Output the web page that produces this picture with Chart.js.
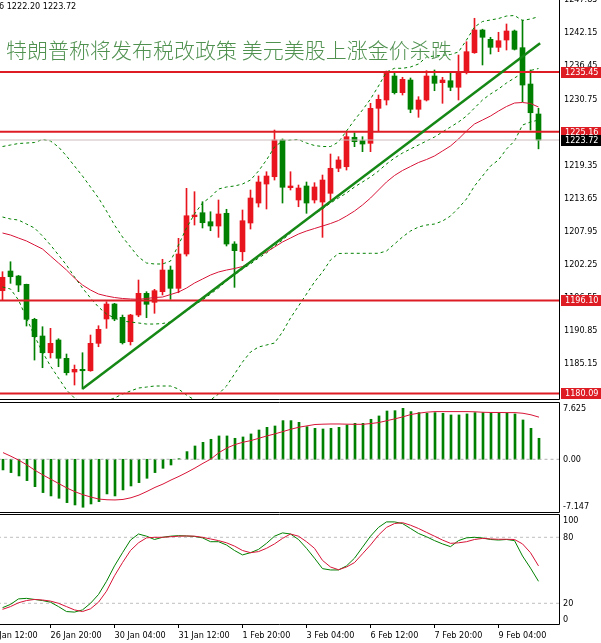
<!DOCTYPE html>
<html>
<head>
<meta charset="utf-8">
<script src="https://cdn.jsdelivr.net/npm/chart.js@4.4.1/dist/chart.umd.min.js"></script>
<style>
  html, body { margin: 0; padding: 0; background: #fff; overflow: hidden; }
  #wrap { position: relative; width: 601px; height: 643px; }
  canvas { position: absolute; left: 0; }
  #priceCanvas { top: 0; }
  #macdCanvas { top: 402px; }
  #stochCanvas { top: 514px; }
  .ohlc { position: absolute; left: -1px; top: 1px; font: 9px 'DejaVu Sans Condensed', 'DejaVu Sans', sans-serif; color: #000; white-space: nowrap; }
  .headline { position: absolute; left: 6px; top: 39px; font-family: 'Noto Sans CJK SC', sans-serif; font-size: 21px; font-weight: 300; line-height: 21px; color: rgb(80, 145, 80); white-space: nowrap; }
</style>
</head>
<body>
<div id="wrap">
  <canvas id="priceCanvas" width="601" height="400"></canvas>
  <canvas id="macdCanvas" width="601" height="111"></canvas>
  <canvas id="stochCanvas" width="601" height="129"></canvas>
  <div class="ohlc">6 1222.20 1223.72</div>
  <div class="headline">特朗普称将发布税改政策 美元美股上涨金价杀跌</div>
</div>
<script>
const FONT = "'DejaVu Sans Condensed', 'DejaVu Sans', sans-serif";
const FONT_SIZE = 9;

// H4 bars, 25 Jan 20:00 -> 10 Feb 00:00
const opens = [1197.77,1201.16,1200.30,1198.87,1192.84,1189.97,1187.09,1189.28,1186.13,1183.77,
  1184.23,1183.99,1188.71,1192.90,1195.48,1193.19,1188.99,1193.58,1197.32,1195.77,
  1197.60,1201.33,1198.18,1204.09,1210.51,1211.20,1209.65,1208.91,1211.10,1205.81,
  1204.48,1209.43,1212.87,1216.14,1217.40,1223.72,1215.51,1213.39,1215.80,1213.39,
  1213.04,1214.54,1218.85,1219.12,1224.19,1223.60,1223.15,1229.18,1230.61,1234.74,
  1231.87,1234.05,1229.01,1230.61,1234.74,1233.59,1233.93,1232.80,1235.31,1238.75,
  1242.66,1241.06,1239.68,1240.94,1242.49,1239.62,1233.36,1228.20];
const highs = [1201.04,1202.76,1200.40,1198.90,1193.02,1191.57,1191.29,1189.50,1186.87,1184.97,
  1187.09,1190.14,1191.74,1195.87,1195.60,1193.58,1193.70,1199.61,1197.60,1198.01,
  1203.18,1202.02,1206.79,1215.40,1214.82,1213.10,1211.37,1213.39,1211.79,1206.21,
  1211.67,1215.11,1217.52,1218.26,1225.44,1223.90,1218.26,1215.97,1216.49,1216.37,
  1217.69,1221.31,1220.85,1225.15,1224.98,1224.29,1230.04,1231.47,1235.60,1235.31,
  1234.52,1234.40,1231.18,1235.65,1235.78,1234.52,1235.31,1238.36,1240.65,1244.68,
  1242.80,1241.41,1242.27,1243.70,1242.66,1244.39,1235.78,1229.18];
const lows = [1196.17,1199.04,1197.60,1191.69,1185.83,1184.51,1186.18,1184.68,1183.25,1181.53,
  1180.84,1183.90,1188.12,1191.29,1192.60,1188.59,1188.42,1193.29,1193.12,1193.88,
  1197.03,1196.29,1197.42,1203.74,1209.08,1208.57,1208.10,1206.96,1205.47,1198.35,
  1202.93,1208.39,1212.18,1211.84,1216.83,1212.87,1215.11,1212.23,1211.10,1212.87,
  1206.96,1213.39,1218.26,1218.55,1222.57,1221.71,1221.71,1225.15,1229.75,1231.64,
  1231.47,1228.42,1227.63,1230.44,1232.21,1230.04,1232.21,1230.61,1235.10,1238.65,
  1236.64,1238.53,1238.93,1239.22,1239.22,1230.32,1225.44,1222.20];
const closes = [1200.08,1200.18,1198.75,1192.84,1189.85,1187.09,1188.71,1186.13,1183.65,1184.23,
  1183.99,1188.71,1191.12,1195.48,1192.90,1188.81,1193.58,1197.32,1195.43,1197.77,
  1201.33,1198.18,1204.09,1210.68,1210.80,1209.48,1208.91,1210.98,1205.81,1204.66,
  1209.82,1213.73,1216.49,1217.52,1223.72,1215.58,1215.80,1215.45,1212.87,1215.63,
  1216.83,1218.85,1220.28,1224.29,1223.43,1223.03,1229.18,1230.73,1235.48,1231.87,
  1234.17,1229.01,1230.61,1234.74,1233.48,1234.05,1232.80,1235.31,1238.93,1242.66,
  1241.41,1239.68,1240.82,1242.49,1239.34,1233.19,1228.42,1223.72];

// bollinger bands (dashed green) and the red moving average
const bbUpper = [1222.60,1222.86,1223.12,1223.20,1223.29,1223.81,1223.55,1222.52,1220.97,1219.24,
  1217.52,1215.63,1213.73,1211.49,1209.08,1207.02,1205.29,1203.57,1202.54,1202.37,
  1202.37,1202.88,1205.64,1208.57,1210.98,1212.87,1213.90,1215.28,1215.63,1215.80,
  1216.14,1216.83,1218.38,1220.28,1222.52,1223.55,1223.72,1223.81,1223.20,1222.77,
  1222.60,1222.60,1223.38,1225.27,1227.16,1228.89,1230.78,1233.02,1235.43,1236.07,
  1236.07,1236.29,1236.81,1238.01,1238.19,1238.31,1238.44,1238.88,1240.94,1243.18,
  1244.13,1244.39,1244.64,1245.07,1245.16,1244.30,1244.56,1244.95];
const bbMiddle = [1210.46,1210.12,1209.94,1209.25,1208.57,1207.19,1205.64,1203.92,1202.19,1200.13,
  1198.23,1196.51,1194.96,1193.76,1193.07,1192.55,1192.38,1192.21,1192.03,1192.03,
  1192.12,1192.38,1193.24,1194.27,1195.31,1196.17,1197.20,1198.23,1199.44,1200.47,
  1201.51,1202.37,1203.40,1204.26,1205.47,1206.50,1207.71,1208.91,1209.94,1210.98,
  1211.84,1212.87,1213.73,1214.59,1215.63,1216.49,1217.35,1218.38,1219.59,1220.62,
  1221.48,1222.17,1222.86,1223.55,1224.24,1225.10,1225.96,1226.82,1227.85,1229.23,
  1230.61,1231.64,1232.50,1233.54,1234.40,1235.26,1235.69,1236.03];
const bbLower = [1198.41,1198.06,1196.17,1193.07,1189.97,1187.21,1184.80,1182.73,1180.67,1179.29,
  1178.60,1178.26,1178.26,1178.77,1179.29,1179.98,1180.50,1181.01,1181.18,1181.36,
  1181.36,1181.36,1180.84,1179.81,1178.95,1178.60,1178.95,1179.98,1181.36,1183.42,
  1185.49,1187.21,1188.07,1188.42,1188.76,1190.66,1193.07,1195.13,1197.20,1199.27,
  1200.99,1203.06,1204.18,1204.21,1204.21,1204.21,1204.21,1204.21,1204.61,1205.81,
  1207.02,1208.05,1208.74,1209.08,1209.25,1209.77,1210.63,1212.01,1213.56,1215.80,
  1217.52,1219.24,1220.28,1222.17,1223.55,1226.30,1226.82,1227.16];
const maRed = [1207.71,1207.36,1206.84,1206.33,1205.64,1204.95,1203.74,1202.54,1201.33,1199.96,
  1198.75,1197.89,1197.20,1196.86,1196.60,1196.43,1196.34,1196.29,1196.43,1196.60,
  1196.68,1197.11,1197.54,1198.23,1199.09,1199.78,1200.47,1200.99,1201.33,1201.59,
  1201.94,1202.71,1203.74,1204.43,1205.29,1206.16,1206.84,1207.53,1208.05,1208.48,
  1208.91,1209.34,1209.86,1210.63,1211.49,1212.53,1213.73,1215.11,1216.49,1217.61,
  1218.47,1219.16,1219.85,1220.36,1220.97,1221.83,1222.69,1223.89,1225.27,1226.48,
  1227.16,1227.85,1228.71,1229.49,1230.09,1230.18,1230.01,1229.40];

// MACD
const macdMain = [-1.59,-1.99,-2.49,-3.19,-4.09,-4.98,-5.48,-5.83,-6.48,-6.83,
  -7.17,-6.68,-6.33,-5.18,-5.48,-4.58,-3.99,-3.49,-2.84,-1.99,
  -1.35,-0.85,0.1,1.15,1.99,2.54,2.99,3.49,3.49,3.14,
  3.34,3.79,4.38,4.78,4.98,5.78,5.78,5.53,4.88,4.63,
  4.53,4.63,4.78,5.13,5.38,5.38,5.98,6.48,7.22,7.27,
  7.62,7.13,6.98,6.88,6.98,6.88,6.63,6.63,6.78,6.98,
  6.98,6.98,6.88,6.88,6.78,5.88,4.63,3.14];
const macdSignal = [1.0,0.45,-0.15,-0.85,-1.65,-2.35,-3.0,-3.65,-4.3,-4.85,
  -5.3,-5.65,-5.95,-6.05,-6.08,-6.0,-5.75,-5.35,-4.8,-4.2,
  -3.7,-3.1,-2.55,-1.95,-1.3,-0.6,0.05,1.0,1.7,2.2,
  2.55,2.8,3.15,3.5,3.8,4.15,4.5,4.8,5.0,5.2,
  5.25,5.28,5.28,5.25,5.23,5.23,5.35,5.5,5.78,6.05,
  6.35,6.7,6.9,7.05,7.13,7.13,7.13,7.13,7.13,7.1,
  7.03,7.0,7.0,6.98,6.98,6.88,6.65,6.3];

// Stochastic
const stochK = [16,19,24,24.5,23.5,22.5,21,17,12.5,12,
  14,20,28,40,54,66,77.5,83,81,78,
  80,81,81.5,81.2,80.8,79.5,76,76,73,68,
  64,66,69,74.5,81,84,83,78,70,61,
  51.5,50.3,50.3,54,61,71,81,89,94,94,
  92.5,88,83.5,80.5,77,74,71.5,77,79.5,80,
  79.4,78,77.5,78,77,63,52,40];
const stochD = [14.5,17,20.5,22.5,23.5,23,22,20,17,14,
  12.5,15,21,31,45,57,68,75,79.5,80,
  80,80.5,81,81.2,81,80,78.5,77,75,72,
  68,66,67,70,74,79,83,81,76,70,
  59,53,50.5,53,57,65,73,82,89,92.5,
  93.3,91,88,84.5,81,77.5,74.5,75,76,78,
  79,78.5,78.2,78.2,78,74,66,54];

// drawn objects
const levelLines = [1235.45, 1225.16, 1196.10, 1180.09];
const lastPrice = 1223.72;
const trendBars = [10, 67.2];
const trendPrices = [1180.9, 1240.4];

// axes
const priceTicks = [1247.85, 1242.15, 1236.45, 1230.75, 1225.05, 1219.35, 1213.65,
  1207.95, 1202.25, 1196.55, 1190.85, 1185.15, 1179.45];
const macdTicks = [7.625, 0, -7.147];
const macdTickLabels = ['7.625', '0.00', '-7.147'];
const stochLevels = [80, 20];
const stochTicks = [100, 80, 20, 0];
// the terminal prints the 100 / 0 labels just inside the window edge
const stochTickLabels = [['', '100'], '80', '20', ['0', '']];
const timeTickBars = [-2, 6, 14, 22, 30, 38, 46, 54, 62];
const timeTickLabels = ['25 Jan 12:00', '26 Jan 20:00', '30 Jan 04:00', '31 Jan 12:00',
  '1 Feb 20:00', '3 Feb 04:00', '6 Feb 12:00', '7 Feb 20:00', '9 Feb 04:00'];

const X_MIN = -0.3125, X_MAX = 69.5625;

const UP = 'rgb(232,20,30)';
const DOWN = 'rgb(0,128,0)';
const LEVEL_RED = 'rgb(222,28,36)';
const MA_RED = 'rgb(215,20,55)';

const idx = opens.map((o, i) => i);
const candleColors = idx.map(i => closes[i] >= opens[i] ? UP : DOWN);
const series = arr => arr.map((v, i) => ({ x: i, y: v }));
const flat = v => [{ x: X_MIN - 1, y: v }, { x: X_MAX + 1, y: v }];

const framePlugin = {
  id: 'frame',
  afterDraw(chart, args, opts) {
    const { ctx, chartArea: a } = chart;
    const r = Math.round(a.right) + 0.5;
    const top = opts.top ? Math.round(a.top) + 0.5 : 0;
    const bottom = Math.round(a.bottom) + (opts.bottomOut ? 0.5 : -0.5);
    ctx.save();
    ctx.strokeStyle = '#000';
    ctx.lineWidth = 1;
    ctx.beginPath();
    if (opts.top) { ctx.moveTo(0, top); ctx.lineTo(r, top); }
    ctx.moveTo(0, bottom); ctx.lineTo(r, bottom);
    ctx.moveTo(r, top); ctx.lineTo(r, bottom);
    ctx.stroke();
    ctx.restore();
  }
};

const priceTagPlugin = {
  id: 'priceTags',
  afterDraw(chart) {
    const { ctx, chartArea: a } = chart;
    const y = chart.scales.y;
    const tags = levelLines.map(v => [v, LEVEL_RED]).concat([[lastPrice, '#000']]);
    ctx.save();
    ctx.font = FONT_SIZE + 'px ' + FONT;
    ctx.textBaseline = 'middle';
    ctx.textAlign = 'left';
    tags.forEach(([v, bg]) => {
      const py = Math.round(y.getPixelForValue(v));
      ctx.fillStyle = bg;
      ctx.fillRect(a.right + 2, py - 5, 40, 11);
      ctx.fillStyle = '#fff';
      ctx.fillText(v.toFixed(2), a.right + 6, py + 0.5);
    });
    ctx.restore();
  }
};

function hiddenX(shift) {
  return { type: 'linear', min: X_MIN - shift, max: X_MAX - shift, display: false,
    offset: false, grid: { offset: false } };
}

function rightAxis(min, max, ticks, fmt, pad) {
  return {
    position: 'right', min: min, max: max,
    grid: { display: false, drawTicks: false },
    border: { display: false },
    afterBuildTicks: ax => { ax.ticks = ticks.map(v => ({ value: v })); },
    afterFit: ax => { ax.width = 42; ax.paddingTop = 0; ax.paddingBottom = 0; },
    ticks: { color: '#000', font: { family: FONT, size: FONT_SIZE }, padding: pad, autoSkip: false, callback: fmt }
  };
}

const baseOptions = {
  responsive: false,
  animation: false,
  events: [],
  layout: { padding: 0 },
  plugins: { legend: { display: false }, tooltip: { enabled: false } },
  elements: { point: { radius: 0 }, line: { tension: 0 } }
};

function lineSet(data, color, width, dash, order) {
  return { type: 'line', data: data, borderColor: color, borderWidth: width,
    borderDash: dash || [], pointRadius: 0, fill: false, order: order };
}

// price window
new Chart(document.getElementById('priceCanvas'), {
  data: {
    datasets: [
      lineSet(trendBars.map((b, i) => ({ x: b, y: trendPrices[i] })), 'rgb(20,135,20)', 2.5, null, 0),
      ...levelLines.map(v => lineSet(flat(v), LEVEL_RED, 2, null, 1)),
      lineSet(flat(lastPrice), 'rgb(205,190,190)', 1, null, 2),
      lineSet(series(maRed), MA_RED, 1, null, 3),
      lineSet(series(bbUpper), 'rgb(0,128,0)', 1, [3, 3], 3),
      lineSet(series(bbMiddle), 'rgb(0,128,0)', 1, [3, 3], 3),
      lineSet(series(bbLower), 'rgb(0,128,0)', 1, [3, 3], 3),
      { type: 'bar', data: idx.map(i => ({ x: i, y: [opens[i], closes[i]] })),
        backgroundColor: candleColors, barThickness: 5, minBarLength: 1, grouped: false, order: 4 },
      { type: 'bar', data: idx.map(i => ({ x: i, y: [lows[i], highs[i]] })),
        backgroundColor: candleColors, barThickness: 1, grouped: false, order: 5 }
    ]
  },
  options: {
    ...baseOptions,
    scales: {
      x: hiddenX(0),
      y: rightAxis(1178.95, 1247.83, priceTicks, v => v.toFixed(2), 5)
    },
    plugins: { ...baseOptions.plugins, frame: { top: false, bottomOut: false } }
  },
  plugins: [framePlugin, priceTagPlugin]
});

// MACD window (half-pixel shift keeps the 2px histogram bars crisp)
new Chart(document.getElementById('macdCanvas'), {
  data: {
    datasets: [
      lineSet(series(macdSignal), MA_RED, 1, null, 0),
      lineSet(flat(0), 'rgb(175,175,175)', 1, [3, 3], 1),
      { type: 'bar', data: series(macdMain), backgroundColor: 'rgb(0,128,0)',
        barThickness: 2, grouped: false, order: 2 }
    ]
  },
  options: {
    ...baseOptions,
    scales: {
      x: hiddenX(0.0625),
      y: rightAxis(-8.03, 8.566, macdTicks, (v, i) => macdTickLabels[i], 4)
    },
    plugins: { ...baseOptions.plugins, frame: { top: true, bottomOut: false } }
  },
  plugins: [framePlugin]
});

// Stochastic window
new Chart(document.getElementById('stochCanvas'), {
  data: {
    datasets: [
      lineSet(series(stochD), MA_RED, 1, null, 0),
      lineSet(series(stochK), 'rgb(0,128,0)', 1, null, 1),
      ...stochLevels.map(v => lineSet(flat(v), 'rgb(190,190,190)', 1, [3, 3], 2))
    ]
  },
  options: {
    ...baseOptions,
    scales: {
      x: {
        type: 'linear', min: X_MIN, max: X_MAX, position: 'bottom', offset: false,
        grid: { display: true, drawOnChartArea: false, drawTicks: true, tickLength: 4, color: '#000' },
        border: { display: false },
        afterBuildTicks: ax => { ax.ticks = timeTickBars.map(v => ({ value: v })); },
        afterFit: ax => { ax.height = 19; ax.paddingLeft = 0; ax.paddingRight = 0; },
        ticks: { autoSkip: false, maxRotation: 0, align: 'start', padding: 2, color: '#000',
          font: { family: FONT, size: FONT_SIZE }, callback: (v, i) => timeTickLabels[i] }
      },
      y: rightAxis(1.18, 101.18, stochTicks, (v, i) => stochTickLabels[i], 4)
    },
    plugins: { ...baseOptions.plugins, frame: { top: true, bottomOut: true } }
  },
  plugins: [framePlugin]
});
</script>
</body>
</html>
